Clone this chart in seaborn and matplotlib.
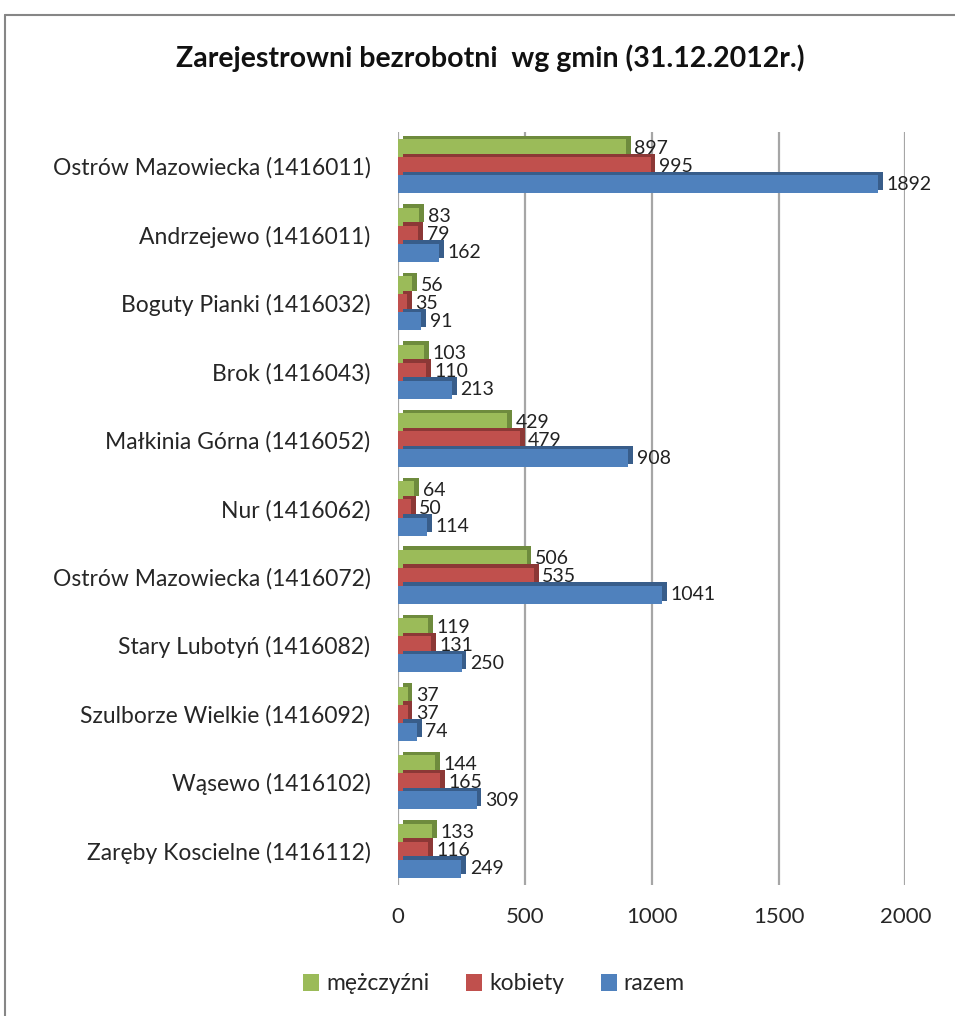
import matplotlib
matplotlib.use("Agg")
import matplotlib.pyplot as plt
import matplotlib.patheffects as pe
from matplotlib.lines import Line2D
import seaborn as sns
import pandas as pd

categories = [
    "Ostrów Mazowiecka (1416011)",
    "Andrzejewo (1416011)",
    "Boguty Pianki (1416032)",
    "Brok (1416043)",
    "Małkinia Górna (1416052)",
    "Nur (1416062)",
    "Ostrów Mazowiecka (1416072)",
    "Stary Lubotyń (1416082)",
    "Szulborze Wielkie (1416092)",
    "Wąsewo (1416102)",
    "Zaręby Koscielne (1416112)",
]
series_names = ["mężczyźni", "kobiety", "razem"]
mezczyzni = [897, 83, 56, 103, 429, 64, 506, 119, 37, 144, 133]
kobiety = [995, 79, 35, 110, 479, 50, 535, 131, 37, 165, 116]
razem = [1892, 162, 91, 213, 908, 114, 1041, 250, 74, 309, 249]
x_ticks = [0, 500, 1000, 1500, 2000]
title = "Zarejestrowni bezrobotni  wg gmin (31.12.2012r.)"

colors = ["#9BBB59", "#C0504D", "#4F81BD"]
dark = ["#6E8B3D", "#8C3836", "#385D8A"]

rows = []
for name, vals in zip(series_names, [mezczyzni, kobiety, razem]):
    for c, v in zip(categories, vals):
        rows.append({"gmina": c, "seria": name, "liczba": v})
df = pd.DataFrame(rows)

sns.set_theme(style="white")
plt.rcParams["font.family"] = ["Lato", "DejaVu Sans"]

fig = plt.figure(figsize=(9.55, 10.16), dpi=100)
ax = fig.add_axes([0.417, 0.129, 0.531, 0.741])

sns.barplot(data=df, y="gmina", x="liczba", hue="seria", order=categories,
            hue_order=series_names, palette=colors, orient="h", width=0.79,
            ax=ax, saturation=1, legend=True, linewidth=0, edgecolor="none")

for cont, dk in zip(ax.containers, dark):
    for p in cont:
        p.set_linewidth(0)
        p.set_path_effects([pe.SimplePatchShadow(offset=(3.5, 2.5), shadow_rgbFace=dk, alpha=1),
                            pe.Normal()])
    ax.bar_label(cont, labels=[f"{int(v)}" for v in cont.datavalues], padding=6,
                 fontsize=14, color="#222222")

ax.set_xlim(0, 2000)
ax.set_ylim(len(categories) - 0.5, -0.5)
ax.set_xticks(x_ticks)
ax.set_xticklabels([str(t) for t in x_ticks], fontsize=16)
ax.tick_params(axis="x", length=0, pad=16)
ax.tick_params(axis="y", length=0, pad=20, labelsize=16.5)
for t in x_ticks:
    ax.axvline(t, color="#A6A6A6", lw=1.6, zorder=0)
for s in ax.spines.values():
    s.set_visible(False)
ax.set_xlabel("")
ax.set_ylabel("")

leg = ax.legend(loc="center", bbox_to_anchor=(494 / 955, 1 - 984 / 1016),
                bbox_transform=fig.transFigure, ncol=3, frameon=False,
                fontsize=16.5, handlelength=0.7, handleheight=0.7,
                handletextpad=0.3, columnspacing=1.6)
for h in leg.legend_handles:
    h.set_path_effects([])
    h.set_linewidth(0)

fig.text(490 / 955, 1 - 58 / 1016, title, ha="center", va="center",
         fontsize=20.5, fontweight="bold", color="#111111")

fig.add_artist(Line2D([5 / 955, 5 / 955], [0, 1 - 15 / 1016], transform=fig.transFigure,
                      color="#868686", lw=1.5))
fig.add_artist(Line2D([5 / 955, 1], [1 - 15 / 1016, 1 - 15 / 1016], transform=fig.transFigure,
                      color="#868686", lw=1.5))

fig.savefig("out.png", dpi=100)
